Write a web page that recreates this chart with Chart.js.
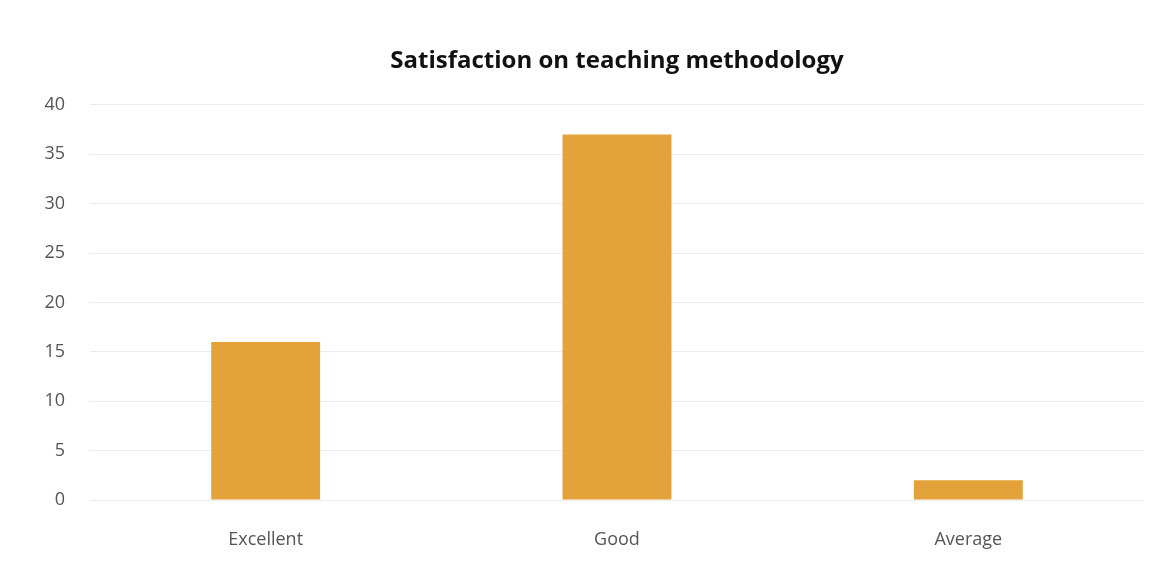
<!DOCTYPE html>
<html>
<head>
<meta charset="utf-8">
<script src="https://cdn.jsdelivr.net/npm/chart.js@4"></script>
<style>
  html, body { margin: 0; padding: 0; background: #fff; }
  #wrap { width: 1165px; height: 576px; }
</style>
</head>
<body>
<div id="wrap"><canvas id="grafico"></canvas></div>
<script>
// Datos del gráfico
const categorias = ["Excellent", "Good", "Average"];
const valores = [16, 37, 2];
const ticksY = [0, 5, 10, 15, 20, 25, 30, 35, 40];

const ctx = document.getElementById("grafico").getContext("2d");

new Chart(ctx, {
  type: "bar",
  data: {
    labels: categorias,
    datasets: [
      {
        label: "Satisfaction",
        data: valores,
        backgroundColor: "#E3A23A",
        borderWidth: 0,
        categoryPercentage: 1,
        barPercentage: 0.31,
      },
    ],
  },
  options: {
    responsive: true,
    maintainAspectRatio: false,
    animation: false,
    layout: { padding: { left: 0, right: 21, top: 0, bottom: 0 } },
    plugins: {
      legend: { display: false },
      tooltip: { enabled: false },
      title: {
        display: true,
        fullSize: false, // centrado sobre el área del gráfico
        text: "Satisfaction on teaching methodology",
        color: "#111",
        font: { family: "Open Sans", size: 24, weight: "bold" },
        padding: { top: 47, bottom: 29 },
      },
    },
    scales: {
      x: {
        grid: { display: false, drawTicks: false },
        border: { display: false },
        ticks: {
          color: "#555",
          font: { family: "Open Sans", size: 18 },
          padding: 29,
        },
        afterFit: function (scale) {
          scale.height = 76;
        },
      },
      y: {
        min: 0,
        max: 40,
        afterBuildTicks: function (scale) {
          scale.ticks = ticksY.map((v) => ({ value: v }));
        },
        grid: { color: "#ececec", lineWidth: 1, drawTicks: false },
        border: { display: false },
        ticks: {
          color: "#555",
          font: { family: "Open Sans", size: 18 },
          padding: 25,
        },
        afterFit: function (scale) {
          scale.width = 90;
        },
      },
    },
  },
});
</script>
</body>
</html>
